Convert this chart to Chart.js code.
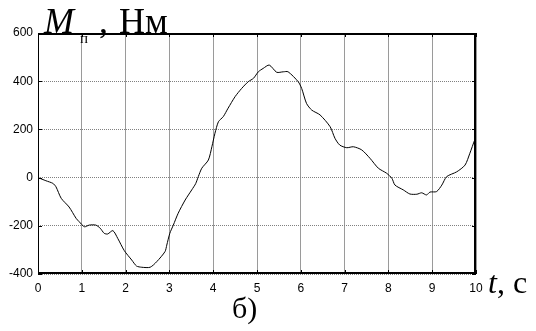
<!DOCTYPE html>
<html>
<head>
<meta charset="utf-8">
<script src="https://cdn.jsdelivr.net/npm/chart.js@4"></script>
<style>
  html, body { margin: 0; padding: 0; background: #fff; }
  #wrap { width: 536px; height: 331px; }
</style>
</head>
<body>
<div id="wrap"><canvas id="chart" width="536" height="331"></canvas></div>
<script>
// время, с
const timeS = [0, 0.18, 0.34, 0.41, 0.53, 0.71, 0.87, 0.94, 1.06, 1.17, 1.32, 1.42, 1.51, 1.59, 1.71, 1.82,
    1.97, 2.14, 2.25, 2.37, 2.56, 2.71, 2.9, 2.94, 3.01, 3.09, 3.2, 3.36, 3.51, 3.6, 3.66, 3.74, 3.89,
    3.97, 4.04, 4.12, 4.23, 4.34, 4.5, 4.65, 4.8, 4.92, 5.03, 5.14, 5.28, 5.45, 5.6, 5.71, 5.94, 6.02,
    6.13, 6.25, 6.44, 6.67, 6.78, 6.89, 7.05, 7.2, 7.39, 7.58, 7.77, 7.96, 8.08, 8.15, 8.34, 8.49, 8.65,
    8.76, 8.87, 8.95, 9.1, 9.22, 9.33, 9.56, 9.75, 9.86, 9.97, 10];
// момент Mп, Нм
const torqueNm = [0, -13, -24, -38, -86, -122, -169, -183, -204, -197, -197, -210, -231, -234, -220, -252,
    -303, -342, -367, -372, -372, -349, -307, -280, -231, -197, -148, -93, -51, -25, 4, 39, 73,
    128, 184, 232, 253, 288, 336, 370, 398, 412, 439, 453, 467, 437, 439, 439, 398, 370,
    308, 280, 260, 211, 163, 135, 124, 128, 115, 80, 39, 18, -3, -31, -51, -68, -69,
    -63, -72, -60, -58, -31, 4, 24, 52, 101, 156, 167];

const xTicks = [0, 1, 2, 3, 4, 5, 6, 7, 8, 9, 10];
const yTicks = [-400, -200, 0, 200, 400, 600];

const points = timeS.map((t, i) => ({ x: t, y: torqueNm[i] }));

const TICK_FONT = { family: '"Liberation Sans"', size: 12 };

// рамка, внутренние засечки и подписи осей
const framePlugin = {
    id: 'frame',
    afterDraw(chart) {
        const { ctx, chartArea: a, scales } = chart;
        ctx.save();
        ctx.strokeStyle = '#000';
        ctx.fillStyle = '#000';
        ctx.lineWidth = 1;
        ctx.strokeRect(a.left + 0.5, a.top + 0.5, a.right - a.left - 1, a.bottom - a.top - 1);
        ctx.fillRect(a.left, a.top, a.right - a.left, 2);
        ctx.fillRect(a.left, a.bottom - 2, a.right - a.left, 2);
        ctx.fillRect(a.right - 2, a.top, 2, a.bottom - a.top);

        ctx.beginPath();
        xTicks.forEach(v => {
            const px = Math.round(scales.x.getPixelForValue(v)) + 0.5;
            ctx.moveTo(px, a.top); ctx.lineTo(px, a.top + 4);
            ctx.moveTo(px, a.bottom); ctx.lineTo(px, a.bottom - 4);
        });
        yTicks.forEach(v => {
            const py = Math.round(scales.y.getPixelForValue(v)) + 0.5;
            ctx.moveTo(a.left, py); ctx.lineTo(a.left + 4, py);
            ctx.moveTo(a.right, py); ctx.lineTo(a.right - 4, py);
        });
        ctx.stroke();

        ctx.textBaseline = 'alphabetic';
        ctx.textAlign = 'left';
        ctx.font = 'italic 36px "Liberation Serif"';
        ctx.fillText('M', 44, 33);
        ctx.font = '15px "Liberation Serif"';
        ctx.fillText('п', 80, 43);
        ctx.font = '36px "Liberation Serif"';
        ctx.fillText(',', 99, 33);
        ctx.fillText('Нм', 119, 33);

        ctx.font = 'italic 32px "Liberation Serif"';
        ctx.fillText('t', 488, 293);
        ctx.font = '32px "Liberation Serif"';
        ctx.fillText(', с', 497, 293);

        ctx.font = '30px "Liberation Serif"';
        ctx.fillText('б)', 232, 318);
        ctx.restore();
    }
};

new Chart(document.getElementById('chart'), {
    type: 'line',
    data: {
        datasets: [{
            data: points,
            borderColor: '#000',
            borderWidth: 1,
            pointRadius: 0,
            tension: 0.25,
            fill: false
        }]
    },
    options: {
        responsive: false,
        animation: false,
        devicePixelRatio: 1,
        layout: { padding: { top: 33, right: 60, left: 0, bottom: 0 } },
        plugins: { legend: { display: false }, tooltip: { enabled: false } },
        scales: {
            x: {
                type: 'linear',
                min: 0,
                max: 10,
                afterBuildTicks: s => { s.ticks = xTicks.map(v => ({ value: v })); },
                afterFit: s => { s.height = 57; },
                grid: { color: '#9a9a9a', lineWidth: 1, drawTicks: false },
                border: { display: false },
                ticks: { color: '#000', padding: 7, maxRotation: 0, font: TICK_FONT }
            },
            y: {
                min: -400,
                max: 600,
                afterBuildTicks: s => { s.ticks = yTicks.map(v => ({ value: v })); },
                afterFit: s => { s.width = 38; },
                grid: { color: '#808080', lineWidth: 1, drawTicks: false },
                border: { display: false, dash: [1, 1] },
                ticks: { color: '#000', padding: 5, font: TICK_FONT }
            }
        }
    },
    plugins: [framePlugin]
});
</script>
</body>
</html>
